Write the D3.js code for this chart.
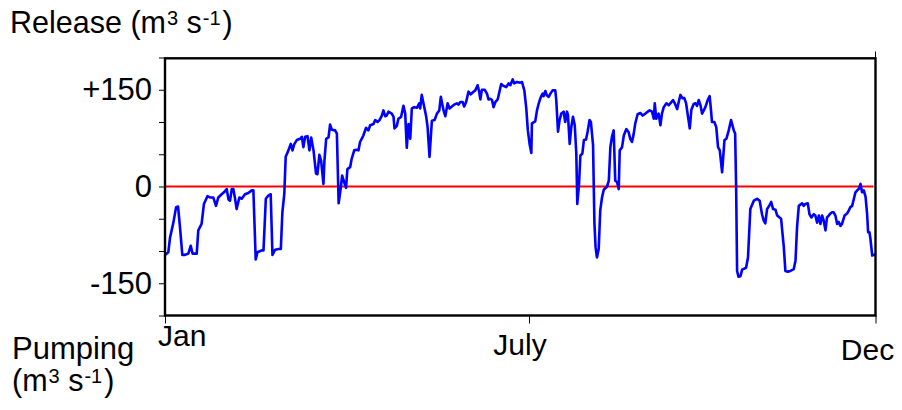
<!DOCTYPE html>
<html>
<head>
<meta charset="utf-8">
<script src="https://cdn.jsdelivr.net/npm/d3@7"></script>
<style>
  html, body { margin: 0; padding: 0; background: #fff; }
  svg { display: block; }
  text { font-family: "Liberation Sans", Arial, sans-serif; fill: #000; }
</style>
</head>
<body>
<svg id="chart" width="902" height="410"></svg>
<script>
// Daily release (+) / pumping (−) through the year, m³ s⁻¹
const day = [
  0, 1.7, 2.6, 4.3, 5.7, 6.7, 7.7, 8.9, 10.3, 12.0, 13.2, 14.2, 16.3, 17.1, 18.8, 20.0,
  21.8, 23.1, 24.8, 26.2, 27.4, 29.1, 30.3, 31.7, 32.6, 33.4, 34.3, 35.1, 36.0, 36.8, 38.2,
  39.4, 41.1, 42.8, 44.6, 45.4, 46.6, 47.5, 49.7, 50.6, 51.8, 53.1, 54.3, 55.2, 56.6, 58.3,
  59.5, 60.3, 61.3, 62.0, 63.4, 64.6, 65.5, 66.3, 67.7, 69.4, 70.3, 71.1, 72.0, 73.2, 74.2,
  75.1, 76.3, 77.6, 78.3, 79.3, 80.2, 81.4, 81.9, 82.8, 84.0, 84.8, 85.7, 87.4, 88.3,
  89.2, 90.3, 91.0, 92.0, 93.0, 93.7, 95.1, 95.9, 97.2, 98.5, 99.4, 100.2, 101.9, 103.3,
  104.5, 105.4, 107.1, 108.0, 109.2, 110.2, 111.4, 112.2, 113.1, 113.9, 114.8, 116.5, 117.4,
  117.9, 119.1, 119.9, 121.3, 122.5, 123.4, 124.2, 125.1, 126.0, 126.8, 128.0, 129.4, 130.6,
  131.1, 131.9, 133.2, 134.2, 134.9, 135.9, 137.1, 138.5, 139.7, 140.9, 141.7, 143.1, 144.0,
  145.2, 146.2, 147.4, 148.6, 149.9, 150.8, 151.7, 152.9, 153.7, 154.7, 155.9, 157.1, 158.5,
  159.4, 160.6, 161.4, 162.0, 162.8, 164.2, 165.4, 166.2, 167.1, 168.0, 168.8, 169.7, 170.9,
  171.9, 172.7, 173.9, 175.3, 176.5, 177.4, 178.6, 179.4, 180.8, 182.5, 183.4, 184.6, 185.6,
  186.4, 187.3, 188.2,
  188.5, 190.2, 191.1, 192.0, 193.1, 194.0, 194.5, 195.4, 196.2, 197.1, 198.0, 199.1, 200.5,
  201.0, 201.9, 202.7, 203.6, 204.8, 205.6, 206.5, 207.0, 207.9, 208.7, 209.6, 210.5, 211.3,
  211.8, 212.7, 213.4, 214.4, 215.2, 216.3, 217.1, 218.1, 218.8, 219.9, 220.6, 221.2, 221.9,
  222.8, 223.6, 224.5, 225.4, 227.1, 228.0, 228.8, 229.6, 230.5, 231.3, 232.2, 233.1, 233.6,
  234.8, 235.7, 237.0, 238.2, 239.0, 239.9, 240.8, 241.6, 242.8, 244.2, 245.4, 246.8, 248.0,
  249.0, 250.2, 251.1, 251.6, 252.4, 253.6, 254.5, 255.3, 256.2, 257.6, 258.8, 259.6, 261.0,
  261.9, 263.1, 263.9, 264.8, 265.8, 266.8, 267.7, 268.7, 269.6, 270.4, 271.6, 272.5, 273.3,
  274.2, 275.1, 275.9, 276.8, 277.6, 278.8, 279.8, 280.5, 281.0, 282.2, 283.2, 284.1, 285.0,
  286.2,
  287.4, 288.4, 289.6, 290.8, 292.2, 292.9, 293.4, 293.9, 294.6, 295.6, 296.5, 298.5, 299.5,
  300.7, 302.5, 304.2, 305.5, 306.7, 307.6, 308.4, 309.3, 310.2, 311.4, 312.4, 313.6, 314.5,
  315.7, 316.5, 317.9, 318.7, 319.9, 321.3, 323.0, 323.9, 324.7, 325.6, 327.3, 328.1, 329.0,
  330.2, 331.1, 332.1, 333.3, 334.1, 335.0, 335.9, 336.7, 337.6, 338.4, 339.3, 340.1, 341.0,
  341.8, 342.7, 343.5, 344.4, 345.3, 346.1, 347.0, 347.8, 349.1, 350.4, 351.3, 352.1, 353.0,
  353.9, 354.7, 355.6, 356.4, 357.3, 358.1, 359.0, 359.9, 360.7, 361.2, 361.9, 362.4, 363.3,
  364.5, 365
];
const flow = [
  -106, -102, -79, -56, -32, -31, -63, -106, -106, -104, -92, -104, -104, -68, -58, -27,
  -15, -17, -17, -30, -17, -12, -9, -4, -20, -22, -4, -4, -19, -35, -17,
  -19, -12, -10, -6, -6, -113, -102, -99, -99, -19, -14, -12, -106, -98, -97,
  -97, -40, -11, 46, 56, 66, 56, 65, 72, 74, 77, 61, 77, 78, 56,
  76, 56, 20, 19, 49, 40, 4, 40, 74, 76, 96, 88, 87, 82,
  -26, -2, 17, 7, -2, 27, 30, 43, 56, 57, 56, 69, 79, 91,
  87, 95, 97, 103, 100, 103, 110, 118, 109, 110, 116, 113, 108,
  90, 94, 105, 108, 125, 113, 60, 97, 74, 121, 123, 122, 129,
  121, 142, 123, 108, 92, 46, 102, 103, 113, 118, 139, 118, 109,
  129, 121, 124, 127, 129, 127, 131, 131, 124, 131, 147, 143, 147,
  149, 157, 147, 135, 150, 150, 144, 135, 136, 134, 123, 131, 135,
  148, 159, 156, 154, 160, 157, 166, 160, 162, 161, 162, 149, 121,
  87, 66, 52,
  98, 101, 118, 129, 139, 144, 140, 148, 141, 139, 144, 149, 149,
  134, 85, 103, 113, 116, 100, 116, 111, 66, 92, 108, 95, 51,
  -27, 4, 48, 51, 72, 73, 85, 103, 100, 64, -56, -94, -110,
  -97, -37, -17, -5, 0, 9, 61, 77, 87, 9, 7, -4, 56,
  61, 79, 89, 84, 74, 69, 82, 98, 112, 114, 110, 113, 116,
  118, 116, 105, 129, 105, 113, 95, 113, 123, 129, 126, 129, 134,
  129, 120, 131, 142, 137, 137, 129, 108, 90, 119, 128, 129, 125,
  134, 126, 113, 118, 123, 134, 140, 118, 100, 100, 92, 61, 56,
  22,
  72, 74, 87, 103, 87, 82, 0, -131, -140, -139, -129, -126, -110,
  -35, -22, -19, -22, -43, -53, -57, -35, -31, -24, -35, -36, -45,
  -48, -50, -94, -131, -132, -131, -128, -115, -63, -30, -26, -30, -27,
  -26, -43, -48, -43, -45, -56, -45, -58, -45, -53, -68, -48, -45,
  -42, -40, -40, -45, -58, -55, -61, -58, -45, -42, -37, -32, -30,
  -19, -9, -6, -4, 4, -9, -6, -16, -43, -71, -71, -81, -107,
  -106, -104
];

// Axis ticks
const yTickValues = [-200, -150, -100, -50, 0, 50, 100, 150, 200];
const yLabelValues = [150, 0, -150];
const yLabelText = ["+150", "0", "-150"];
const xTickValues = [0, 187, 365];
const xTickLabels = ["Jan", "July", "Dec"];

const svg = d3.select("#chart");
const plot = { left: 165, right: 875.5, top: 57.5, bottom: 315.5 };

const x = d3.scaleLinear().domain([0, 365]).range([plot.left, plot.right]);
const y = d3.scaleLinear().domain([-200, 200]).range([plot.bottom, plot.top]);

// Y axis: minor ticks every 50, labels at ±150 and 0
const yAxis = d3.axisLeft(y)
  .tickValues(yTickValues)
  .tickSize(6)
  .tickPadding(7)
  .tickFormat(v => {
    const i = yLabelValues.indexOf(v);
    return i >= 0 ? yLabelText[i] : "";
  });
const gy = svg.append("g").attr("transform", `translate(${plot.left},0)`).call(yAxis);
gy.select(".domain").remove();
gy.selectAll(".tick line").attr("stroke", "#000").attr("stroke-width", 1);
gy.selectAll(".tick text")
  .style("font-size", "31px")
  .style("font-family", '"Liberation Sans", Arial, sans-serif')
  .attr("fill", "#000");

// X axis: month ticks below the frame
const xAxis = d3.axisBottom(x).tickValues(xTickValues).tickSize(8).tickFormat("");
const gx = svg.append("g").attr("transform", `translate(0,${plot.bottom})`).call(xAxis);
gx.select(".domain").remove();
gx.selectAll(".tick line").attr("stroke", "#000").attr("stroke-width", 1);

// Month labels sit at staggered heights under their ticks
const xLabelNudge = [
  { dx: -7, dy: 30.5, anchor: "start" },
  { dx: -9, dy: 39.5, anchor: "middle" },
  { dx: -8, dy: 44.5, anchor: "middle" }
];
svg.append("g").selectAll("text")
  .data(xTickValues)
  .join("text")
  .attr("x", (d, i) => x(d) + xLabelNudge[i].dx)
  .attr("y", (d, i) => plot.bottom + xLabelNudge[i].dy)
  .attr("text-anchor", (d, i) => xLabelNudge[i].anchor)
  .style("font-size", "30px")
  .text((d, i) => xTickLabels[i]);

// Zero line
svg.append("line")
  .attr("x1", plot.left).attr("x2", x(364))
  .attr("y1", y(0)).attr("y2", y(0))
  .attr("stroke", "#ff0000").attr("stroke-width", 2.2);

// Release / pumping series
const series = day.map((d, i) => [d, flow[i]]);
svg.append("path")
  .datum(series)
  .attr("fill", "none")
  .attr("stroke", "#0000ff")
  .attr("stroke-width", 2.6)
  .attr("stroke-linejoin", "round")
  .attr("d", d3.line().x(d => x(d[0])).y(d => y(d[1])));

// Frame
svg.append("rect")
  .attr("x", plot.left).attr("y", plot.top + 0.8)
  .attr("width", plot.right - plot.left).attr("height", plot.bottom - plot.top - 0.8)
  .attr("fill", "none").attr("stroke", "#000").attr("stroke-width", 2.4);
svg.append("line")
  .attr("x1", plot.right).attr("x2", plot.right)
  .attr("y1", plot.top - 6).attr("y2", plot.top)
  .attr("stroke", "#000").attr("stroke-width", 1);

// Unit labels with superscripts
function unitLabel(xPos, yPos, words, size) {
  const t = svg.append("text").attr("x", xPos).attr("y", yPos).style("font-size", size + "px");
  const sup = Math.round(size * 0.64);
  const up = Math.round(size * 0.27);
  t.append("tspan").text(words + "(m");
  t.append("tspan").attr("dx", 1).attr("dy", -up).style("font-size", sup + "px").text("3");
  t.append("tspan").attr("dy", up).text(" s");
  t.append("tspan").attr("dx", 1).attr("dy", -up).style("font-size", sup + "px").text("-1");
  t.append("tspan").attr("dx", 2).attr("dy", up).text(")");
}
unitLabel(10, 32.5, "Release ", 30.5);
svg.append("text").attr("x", 12).attr("y", 359).style("font-size", "31px").text("Pumping");
unitLabel(12, 391, "", 30.5);
</script>
</body>
</html>
